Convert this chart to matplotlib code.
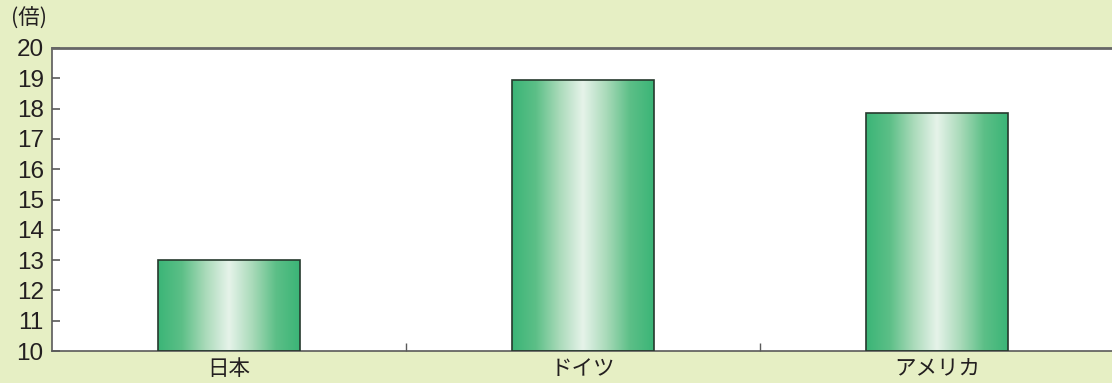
import numpy as np
import matplotlib
matplotlib.use("Agg")
import matplotlib.pyplot as plt
from matplotlib.colors import LinearSegmentedColormap
from matplotlib.patches import Rectangle

plt.rcParams['font.family'] = ['Liberation Sans', 'Noto Sans CJK JP', 'DejaVu Sans']
cjk = ['Noto Sans CJK JP', 'DejaVu Sans']

categories = ['日本', 'ドイツ', 'アメリカ']
values = [13.0, 18.95, 17.85]
yticks = [10, 11, 12, 13, 14, 15, 16, 17, 18, 19, 20]
unit_label = '(倍)'

bg = '#E6EFC4'
spine_col = '#5a5a5a'
text_col = '#231f20'
bar_width = 0.4

# horizontal green -> white -> green sheen used inside each bar
sheen = LinearSegmentedColormap.from_list(
    'sheen', ['#3BB577', '#5CBF87', '#A9DAB9', '#E6F3EA', '#A9DAB9', '#5CBF87', '#3BB577'])

fig = plt.figure(figsize=(11.12, 3.83), dpi=100, facecolor=bg)
ax = fig.add_axes([52 / 1112, 1 - 351 / 383, 1062 / 1112, 303 / 383])
ax.set_facecolor('white')

x = np.arange(len(categories))

grad = np.linspace(0, 1, 256).reshape(1, -1)
for xi, v in zip(x, values):
    left = xi - bar_width / 2
    im = ax.imshow(grad, cmap=sheen, aspect='auto', interpolation='bicubic',
                   extent=[left, left + bar_width, yticks[0], v], zorder=2)
    rect = Rectangle((left, yticks[0]), bar_width, v - yticks[0],
                     facecolor='none', edgecolor='#26392d', linewidth=1.2, zorder=3)
    ax.add_patch(rect)
    im.set_clip_path(rect)

ax.set_xlim(-0.5, len(categories) - 0.5)
ax.set_ylim(yticks[0], yticks[-1])

ax.set_yticks(yticks)
ax.set_yticklabels([str(t) for t in yticks])
ax.set_xticks(x)
ax.set_xticklabels(categories, family=cjk)
ax.set_xticks(x[:-1] + 0.5, minor=True)

ax.tick_params(axis='y', direction='in', length=6, width=1.2, color=spine_col,
               labelsize=17.5, labelcolor=text_col, pad=6)
ax.tick_params(axis='x', which='major', length=0, labelsize=15.5,
               labelcolor=text_col, pad=5)
ax.tick_params(axis='x', which='minor', direction='in', length=6, width=1.0,
               color=spine_col)

for side in ['left', 'bottom']:
    ax.spines[side].set_color(spine_col)
    ax.spines[side].set_linewidth(1.2)
ax.spines['top'].set_color('#666666')
ax.spines['top'].set_linewidth(2.0)
ax.spines['right'].set_visible(False)

fig.text(11 / 1112, 1 - 19 / 383, unit_label, fontsize=15.5, color=text_col,
         family=cjk, ha='left', va='center')

fig.savefig('out.png', dpi=100, facecolor=bg)
